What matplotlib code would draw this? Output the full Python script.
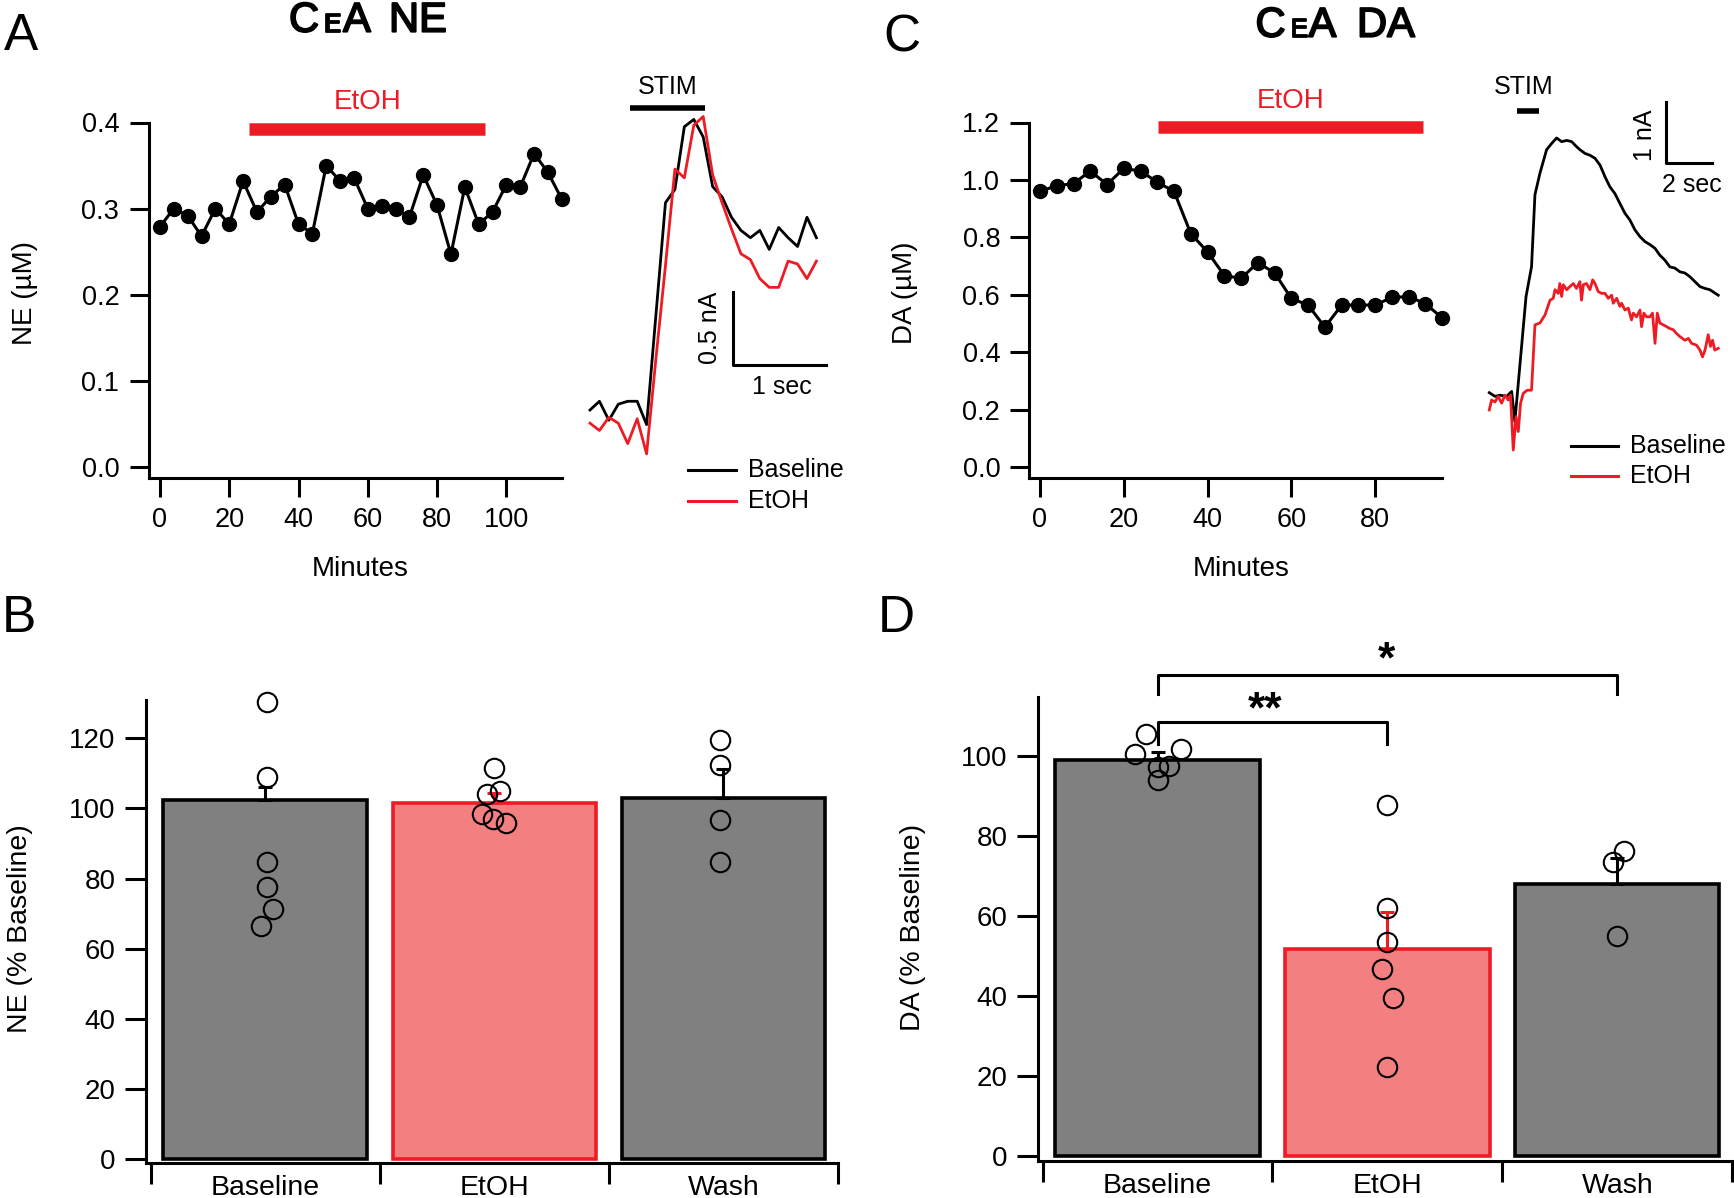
import matplotlib
matplotlib.use("Agg")
import matplotlib.pyplot as plt
import matplotlib.patheffects as pe
from matplotlib.ticker import FormatStrFormatter

plt.rcParams['font.family'] = ['Liberation Sans', 'DejaVu Sans']

RED = "#ed1c24"
PINK = "#f37f80"
GRAY = "#808080"

# ---- data: panel A (NE time course) ----
ne_minutes = [0, 4, 8, 12, 16, 20, 24, 28, 32, 36, 40, 44, 48, 52, 56, 60,
              64, 68, 72, 76, 80, 84, 88, 92, 96, 100, 104, 108, 112, 116]
ne_um = [0.279, 0.300, 0.292, 0.268, 0.300, 0.282, 0.332, 0.296, 0.314, 0.328,
         0.282, 0.271, 0.350, 0.332, 0.336, 0.300, 0.303, 0.300, 0.290, 0.339,
         0.304, 0.247, 0.325, 0.282, 0.296, 0.328, 0.325, 0.364, 0.342, 0.311]
ne_etoh_period = [25.8, 93.9]

# NE example traces (sec, nA)
ne_trace_t = [0.0, 0.1, 0.2, 0.3, 0.4, 0.5, 0.6, 0.7, 0.8, 0.9, 1.0, 1.1, 1.2,
              1.3, 1.4, 1.5, 1.6, 1.7, 1.8, 1.9, 2.0, 2.1, 2.2, 2.3, 2.4]
ne_trace_base = [0.00, 0.06, -0.07, 0.04, 0.06, 0.06, -0.10, 0.66, 1.42, 1.51,
                 1.94, 1.99, 1.87, 1.53, 1.46, 1.32, 1.23, 1.18, 1.23, 1.10,
                 1.25, 1.18, 1.12, 1.32, 1.18]
ne_trace_etoh = [-0.09, -0.14, -0.05, -0.09, -0.23, -0.06, -0.30, 0.36, 0.99,
                 1.65, 1.59, 1.95, 2.01, 1.61, 1.42, 1.24, 1.07, 1.03, 0.90,
                 0.84, 0.84, 1.02, 1.00, 0.90, 1.02]
ne_stim = [0.42, 1.22]

# ---- data: panel C (DA time course) ----
da_minutes = [0, 4, 8, 12, 16, 20, 24, 28, 32, 36, 40, 44, 48, 52, 56, 60,
              64, 68, 72, 76, 80, 84, 88, 92, 96]
da_um = [0.960, 0.980, 0.987, 1.031, 0.984, 1.040, 1.031, 0.992, 0.960, 0.813,
         0.749, 0.667, 0.657, 0.712, 0.676, 0.587, 0.564, 0.487, 0.564, 0.564,
         0.564, 0.591, 0.593, 0.569, 0.519]
da_etoh_period = [28.1, 91.4]

da_base_t = [0.00, 0.25, 0.47, 0.76, 0.98, 1.12, 1.61, 1.85, 2.00, 2.22, 2.51,
             2.73, 2.95, 3.17, 3.39, 3.61, 3.82, 3.97, 4.19, 4.41, 4.63, 4.85,
             5.07, 5.28, 5.50, 5.72, 5.94, 6.16, 6.38, 6.60, 6.82, 7.04, 7.26,
             7.47, 7.69, 7.91, 8.13, 8.35, 8.57, 8.79, 9.01, 9.23, 9.45, 9.66,
             10.03]
da_base_v = [0.01, -0.05, -0.03, -0.05, 0.03, -0.46, 1.57, 2.05, 3.22, 3.57,
             3.95, 4.05, 4.14, 4.08, 4.10, 4.08, 4.00, 3.95, 3.89, 3.86, 3.81,
             3.70, 3.51, 3.35, 3.24, 3.08, 2.92, 2.81, 2.65, 2.54, 2.46, 2.41,
             2.35, 2.24, 2.16, 2.05, 2.03, 1.97, 1.95, 1.89, 1.81, 1.73, 1.70,
             1.68, 1.59]
da_etoh_t = [0.00, 0.10, 0.25, 0.39, 0.54, 0.69, 0.83, 0.93, 1.05, 1.17, 1.27,
             1.37, 1.49, 1.66, 1.85, 2.00, 2.22, 2.44, 2.66, 2.80, 2.88, 3.02,
             3.09, 3.17, 3.24, 3.39, 3.53, 3.68, 3.82, 3.97, 4.04, 4.12, 4.26,
             4.41, 4.53, 4.63, 4.77, 4.92, 5.07, 5.21, 5.36, 5.43, 5.58, 5.72,
             5.80, 5.94, 6.09, 6.23, 6.31, 6.45, 6.60, 6.67, 6.77, 6.89, 7.04,
             7.15, 7.26, 7.36, 7.47, 7.62, 7.77, 7.91, 8.06, 8.20, 8.35, 8.57,
             8.72, 8.86, 9.08, 9.23, 9.34, 9.45, 9.59, 9.69, 9.78, 9.88, 10.03]
da_etoh_v = [-0.27, -0.11, -0.14, -0.05, -0.16, -0.03, -0.11, -0.03, -0.92,
             -0.38, -0.62, -0.16, 0.00, 0.05, 0.05, 1.11, 1.14, 1.27, 1.51, 1.54,
             1.68, 1.62, 1.78, 1.57, 1.76, 1.68, 1.73, 1.78, 1.70, 1.81, 1.51,
             1.76, 1.78, 1.68, 1.84, 1.78, 1.65, 1.62, 1.62, 1.54, 1.59, 1.46,
             1.54, 1.41, 1.46, 1.35, 1.38, 1.19, 1.30, 1.24, 1.35, 1.08, 1.30,
             1.24, 1.24, 1.30, 0.81, 1.30, 1.14, 1.11, 1.08, 1.05, 1.03, 0.97,
             0.92, 0.86, 0.89, 0.81, 0.78, 0.70, 0.59, 0.70, 0.95, 0.76, 0.86,
             0.70, 0.73]
da_stim = [1.23, 2.16]

# ---- data: bar panels B and D ----
conditions = ["Baseline", "EtOH", "Wash"]
ne_pct_mean = [102.4, 101.5, 102.9]
ne_pct_sem = [3.8, 2.8, 8.4]
ne_pct_points = [[130.3, 109.1, 84.8, 77.6, 71.3, 66.4],
                 [111.6, 104.2, 104.9, 98.3, 97.1, 95.8],
                 [119.5, 112.5, 96.8, 84.6]]
ne_jitter = [[0.01, 0.01, 0.01, 0.01, 0.035, -0.016],
             [0.0, -0.03, 0.027, -0.053, -0.005, 0.051],
             [-0.015, -0.015, -0.015, -0.015]]

da_pct_mean = [99.0, 51.8, 68.0]
da_pct_sem = [2.1, 9.3, 6.7]
da_pct_points = [[105.7, 100.5, 101.9, 97.6, 97.4, 94.0],
                 [87.9, 62.0, 53.7, 46.8, 39.7, 22.2],
                 [73.5, 76.3, 55.2]]
da_jitter = [[-0.05, -0.10, 0.10, 0.05, 0.0, 0.0],
             [0.0, 0.0, 0.0, -0.024, 0.024, 0.0],
             [-0.02, 0.03, 0.0]]

# ---- layout helpers (figure pixels) ----
W, H = 1734, 1198
def fx(x):
    return x / W
def fy(y):
    return 1 - y / H
def box(x0, y0, x1, y1):
    return [x0 / W, 1 - y1 / H, (x1 - x0) / W, (y1 - y0) / H]

fig = plt.figure(figsize=(W / 100, H / 100), dpi=100)
fig.patch.set_facecolor("white")

heavy = [pe.withStroke(linewidth=1.3, foreground="k")]


def style_axes(ax, lab=19.5):
    for s in ["top", "right"]:
        ax.spines[s].set_visible(False)
    for s in ["left", "bottom"]:
        ax.spines[s].set_linewidth(2.2)
    ax.tick_params(width=2.2, length=14, labelsize=lab, direction="out", pad=7)


def title(pieces, y):
    # "CeA" with a small-cap E
    for x, s, fs in pieces:
        fig.text(fx(x), fy(y), s, fontsize=fs, ha="left", va="baseline",
                 path_effects=heavy)


def panel_letter(x, y, s):
    fig.text(fx(x), fy(y), s, fontsize=37, ha="left", va="baseline")


# ==========================
# A: NE time course
# ==========================
axA = fig.add_axes(box(148.5, 122.5, 561.8, 477.6))
style_axes(axA)
axA.plot(ne_minutes, ne_um, "-o", color="k", lw=2.2, ms=10, clip_on=False)
axA.set_xlim(-3.3, 116)
axA.set_ylim(-0.0123, 0.4)
axA.set_xticks([0, 20, 40, 60, 80, 100])
axA.set_yticks([0.0, 0.1, 0.2, 0.3, 0.4])
axA.yaxis.set_major_formatter(FormatStrFormatter("%.1f"))
axA.plot(ne_etoh_period, [0.392, 0.392], color=RED, lw=9,
         solid_capstyle="butt", clip_on=False)
axA.text(sum(ne_etoh_period) / 2, 0.424, "EtOH", color=RED, fontsize=20,
         ha="center", va="center")
fig.text(fx(25), fy(293), "NE (µM)", rotation=90, fontsize=20,
         ha="center", va="center")
fig.text(fx(360), fy(569), "Minutes", fontsize=20, ha="center", va="center")

# A: traces
axAt = fig.add_axes(box(570, 60, 850, 520))
axAt.axis("off")
axAt.set_xlim(-0.212, 2.756)
axAt.set_ylim(-0.753, 2.397)
axAt.plot(ne_trace_t, ne_trace_base, color="k", lw=2)
axAt.plot(ne_trace_t, ne_trace_etoh, color=RED, lw=2)
axAt.plot(ne_stim, [2.07, 2.07], color="k", lw=4, solid_capstyle="butt")
axAt.text(sum(ne_stim) / 2, 2.21, "STIM", fontsize=18, ha="center", va="center")
axAt.plot([1.52, 1.52, 2.50], [0.81, 0.31, 0.31], color="k", lw=2.2)
axAt.text(1.27, 0.56, "0.5 nA", rotation=90, fontsize=18, ha="center", va="center")
axAt.text(2.03, 0.16, "1 sec", fontsize=18, ha="center", va="center")
axAt.plot([1.04, 1.55], [-0.41, -0.41], color="k", lw=2.2)
axAt.plot([1.04, 1.55], [-0.62, -0.62], color=RED, lw=2.2)
axAt.text(1.68, -0.41, "Baseline", fontsize=18, ha="left", va="center")
axAt.text(1.68, -0.62, "EtOH", fontsize=18, ha="left", va="center")

title([(289, "C", 30), (324, "E", 19), (343, "A", 30), (389, "NE", 30)], 31.7)
panel_letter(4, 50, "A")

# ==========================
# C: DA time course
# ==========================
axC = fig.add_axes(box(1029.3, 122.5, 1442.2, 477.6))
style_axes(axC)
axC.plot(da_minutes, da_um, "-o", color="k", lw=2.2, ms=10, clip_on=False)
axC.set_xlim(-2.55, 96)
axC.set_ylim(-0.037, 1.2)
axC.set_xticks([0, 20, 40, 60, 80])
axC.set_yticks([0.0, 0.2, 0.4, 0.6, 0.8, 1.0, 1.2])
axC.yaxis.set_major_formatter(FormatStrFormatter("%.1f"))
axC.plot(da_etoh_period, [1.183, 1.183], color=RED, lw=9,
         solid_capstyle="butt", clip_on=False)
axC.text(sum(da_etoh_period) / 2, 1.275, "EtOH", color=RED, fontsize=20,
         ha="center", va="center")
fig.text(fx(905), fy(293), "DA (µM)", rotation=90, fontsize=20,
         ha="center", va="center")
fig.text(fx(1241), fy(569), "Minutes", fontsize=20, ha="center", va="center")

axCt = fig.add_axes(box(1480, 60, 1734, 500))
axCt.axis("off")
axCt.set_xlim(-0.407, 10.72)
axCt.set_ylim(-1.73, 5.404)
axCt.plot(da_base_t, da_base_v, color="k", lw=2)
axCt.plot(da_etoh_t, da_etoh_v, color=RED, lw=2)
axCt.plot(da_stim, [4.57, 4.57], color="k", lw=4, solid_capstyle="butt")
axCt.text(1.52, 4.97, "STIM", fontsize=18, ha="center", va="center")
axCt.plot([7.74, 7.74, 9.74], [4.73, 3.73, 3.73], color="k", lw=2.2)
axCt.text(6.82, 4.19, "1 nA", rotation=90, fontsize=18, ha="center", va="center")
axCt.text(8.86, 3.38, "2 sec", fontsize=18, ha="center", va="center")
axCt.plot([3.56, 5.65], [-0.85, -0.85], color="k", lw=2.2)
axCt.plot([3.56, 5.65], [-1.34, -1.34], color=RED, lw=2.2)
axCt.text(6.16, -0.85, "Baseline", fontsize=18, ha="left", va="center")
axCt.text(6.16, -1.34, "EtOH", fontsize=18, ha="left", va="center")

title([(1255.5, "C", 30), (1290.5, "E", 19), (1308.5, "A", 30), (1357, "DA", 30)], 36.7)
panel_letter(883, 51, "C")


# ==========================
# B / D: bar charts
# ==========================
def bar_panel(ax, means, sems, points, jitter, ymax, yticks):
    for s in ["top", "right"]:
        ax.spines[s].set_visible(False)
    for s in ["left", "bottom"]:
        ax.spines[s].set_linewidth(2.2)
    xs = [0, 1, 2]
    ax.bar(xs, means, width=0.888, color=[GRAY, PINK, GRAY],
           edgecolor=["k", RED, "k"], linewidth=2.6, zorder=2)
    for i in xs:
        c = RED if i == 1 else "k"
        ax.errorbar(i, means[i], yerr=[[0], [sems[i]]], color=c, lw=2.2,
                    capsize=5, capthick=2.2, zorder=3)
        ax.plot([i + j for j in jitter[i]], points[i], "o", mfc="none",
                mec="k", mew=1.5, ms=14, zorder=4, clip_on=False)
    ax.set_xlim(-0.52, 2.5)
    ax.set_ylim(-1.1, ymax)
    ax.set_yticks(yticks)
    ax.set_xticks([-0.5, 0.5, 1.5, 2.5])
    ax.set_xticklabels([])
    ax.set_xticks(xs, minor=True)
    ax.set_xticklabels(conditions, minor=True)
    ax.tick_params(axis="x", which="major", length=15, width=2.2, direction="out")
    ax.tick_params(axis="x", which="minor", length=0, labelsize=20.5, pad=9)
    ax.tick_params(axis="y", length=15, width=2.2, direction="out",
                   labelsize=20, pad=7)


axB = fig.add_axes(box(146, 699.9, 838, 1162.6))
bar_panel(axB, ne_pct_mean, ne_pct_sem, ne_pct_points, ne_jitter, 131,
          [0, 20, 40, 60, 80, 100, 120])
fig.text(fx(20), fy(929), "NE (% Baseline)", rotation=90, fontsize=20.5,
         ha="center", va="center")
panel_letter(2, 632, "B")

axD = fig.add_axes(box(1038, 697.3, 1732.3, 1160.6))
bar_panel(axD, da_pct_mean, da_pct_sem, da_pct_points, da_jitter, 114.8,
          [0, 20, 40, 60, 80, 100])
fig.text(fx(913.5), fy(927), "DA (% Baseline)", rotation=90, fontsize=20.5,
         ha="center", va="center")
panel_letter(878, 632, "D")

# significance brackets
axD.plot([0, 0, 1, 1], [103.1, 108.6, 108.6, 103.1], color="k", lw=2.2,
         clip_on=False, zorder=5)
axD.plot([0, 0, 2, 2], [115.7, 120.5, 120.5, 115.7], color="k", lw=2.2,
         clip_on=False, zorder=5)
axD.annotate("**", xy=(0.466, 114.8), xytext=(0, -18), textcoords="offset points",
             fontsize=32, fontweight="bold", ha="center", va="baseline",
             annotation_clip=False)
axD.annotate("*", xy=(0.994, 127.2), xytext=(0, -18), textcoords="offset points",
             fontsize=32, fontweight="bold", ha="center", va="baseline",
             annotation_clip=False)

fig.savefig("out.png", dpi=100)
